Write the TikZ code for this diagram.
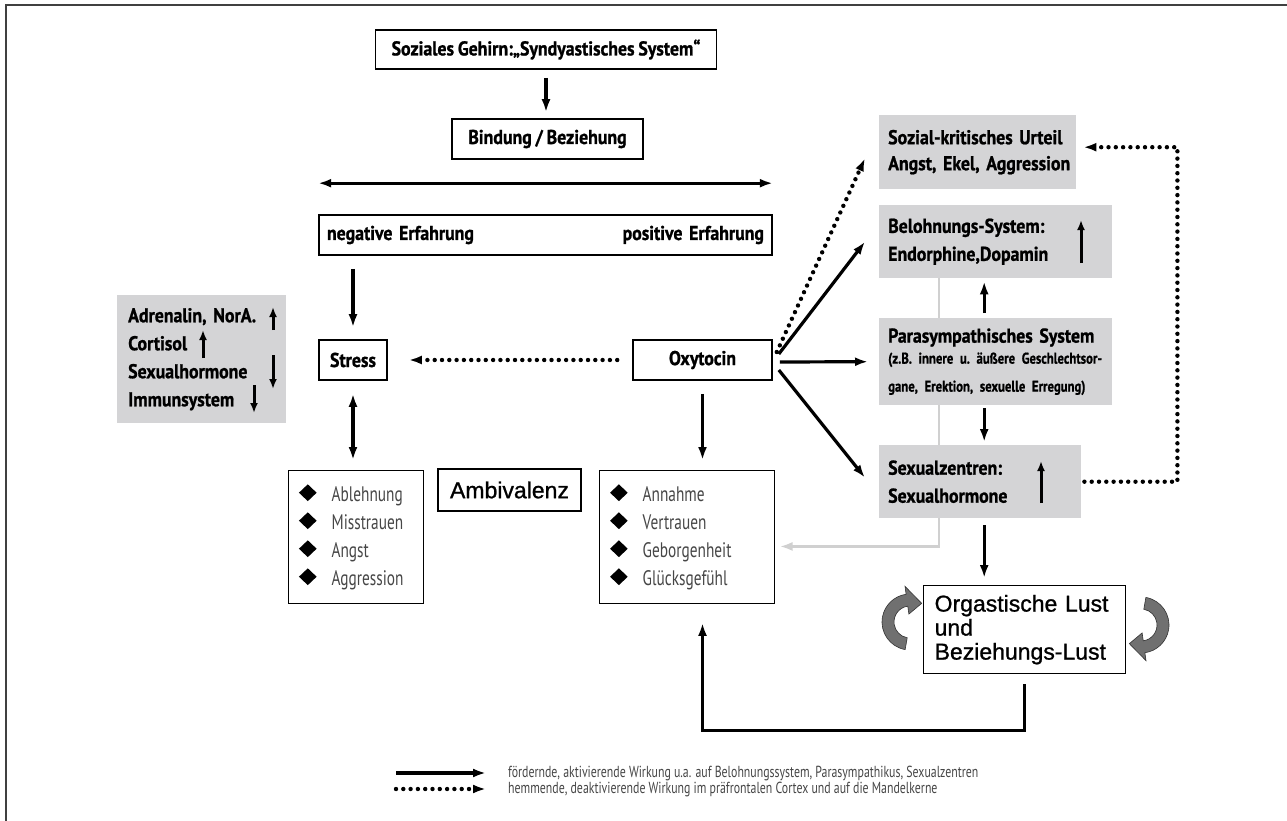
\documentclass[tikz,border=0pt]{standalone}
\usepackage{fontspec}
\setmainfont{PT Sans}
\newfontfamily\condfont[FakeStretch=0.89, WordSpace=0.85, BoldFeatures={FakeBold=1}]{PT Sans}
\newfontfamily\condsmall[FakeStretch=0.82, BoldFeatures={FakeBold=0.8}]{PT Sans}
\newfontfamily\lightfont[FakeStretch=0.73]{PT Sans}
\newfontfamily\legfont[FakeStretch=0.74]{PT Sans}
\newfontfamily\helvfont[FakeBold=1]{Liberation Sans}
\usepackage{tikz}
\usetikzlibrary{arrows.meta,backgrounds,positioning}

\definecolor{boxgray}{RGB}{212,212,214}
\definecolor{linegray}{RGB}{208,208,208}
\definecolor{icongray}{RGB}{112,112,112}
\definecolor{txtgray}{RGB}{70,70,70}

\newcommand{\dia}{\textcolor{black}{\scalebox{1}[0.95]{\rotatebox{45}{\rule{12.5pt}{12.5pt}}}}\hspace{15pt}}

\tikzset{
  whitebox/.style={draw, line width=1.6pt, fill=white, inner sep=0pt,
    font=\condfont\bfseries\fontsize{20}{24}\selectfont},
  listbox/.style={draw, line width=0.9pt, anchor=north west, inner xsep=11pt,
    inner ysep=0pt, align=left, text=txtgray,
    font=\lightfont\fontsize{21}{28}\selectfont},
  graybox/.style={fill=boxgray, anchor=north west, inner xsep=9pt, inner ysep=0pt,
    align=left, font=\condfont\bfseries\fontsize{20}{28}\selectfont},
  fwd/.style={line width=3.2pt, -{Latex[length=13pt,width=9pt]}},
  dbl/.style={line width=3.2pt, {Latex[length=13pt,width=9pt]}-{Latex[length=13pt,width=9pt]}},
  inh/.style={line width=4.4pt, line cap=round, dash pattern=on 0pt off 7.3pt,
    -{Latex[length=13pt,width=9pt]}},
  fbk/.style={line width=2.6pt, draw=linegray, -{Latex[length=13pt,width=9pt]}},
  lvlarr/.style={line width=3pt, -{Latex[length=10pt,width=8pt]}},
  turnicon/.style={fill=icongray, draw=black!80, line width=0.6pt}
}

\begin{document}
\begin{tikzpicture}[x=1pt,y=-1pt]
  \useasboundingbox (0,0) rectangle (1287,821);
  \draw[line width=1.6pt, black!75] (6,821) -- (6,5) -- (1287,5); %frame

  % upper chain
  \node[whitebox, minimum width=341pt, minimum height=39pt] (soz) at (546,49.5) {Soziales Gehirn:„Syndyastisches System“};
  \node[whitebox, minimum width=191pt, minimum height=40pt] (bind) at (547.5,139) {Bindung / Beziehung};
  \node[whitebox, text width=437pt, inner xsep=8pt, minimum height=40pt] (erf) at (545.5,235) {negative Erfahrung\hfill positive Erfahrung};
  \draw[fwd, shorten <=8pt, shorten >=6pt] (soz.south) -- (soz.south |- bind.north);
  \draw[dbl] ([yshift=31pt]erf.north west) -- ([yshift=31pt]erf.north east);

  % stress and oxytocin
  \node[whitebox, minimum width=68pt, minimum height=40pt] (stress) at (353,360) {Stress};
  \node[whitebox, minimum width=139pt, minimum height=40pt] (oxy) at (702.5,360) {Oxytocin};
  \draw[fwd, shorten <=13pt, shorten >=12pt] (erf.south -| stress) -- (stress.north);
  \draw[inh, shorten <=15pt, shorten >=21pt] (oxy.west) -- (stress.east);

  \node[graybox, minimum width=169pt, minimum height=128pt, text width=147pt, inner xsep=11pt] (horm) at (117,295) {Adrenalin, NorA.\\Cortisol\\Sexualhormone\\Immunsystem};
  \draw[lvlarr] (273,330) -- (273,307); %Adrenalin
  \draw[lvlarr] (203,358) -- (203,330); %Cortisol
  \draw[lvlarr] (273,355) -- (273,389); %Sexualhormone
  \draw[lvlarr] (254,385) -- (254,413); %Immunsystem

  % lists
  \node[listbox, minimum width=135pt, minimum height=133pt, text width=113pt] (neg) at (287.5,470) {\dia Ablehnung\\\dia Misstrauen\\\dia Angst\\\dia Aggression};
  \node[whitebox, font=\helvfont\fontsize{23}{24}\selectfont, line width=1.3pt, minimum width=143pt, minimum height=42pt] (amb) at (509.5,490) {Ambivalenz};
  \node[listbox, minimum width=175pt, minimum height=133pt, text width=153pt] (pos) at (598.6,470) {\dia Annahme\\\dia Vertrauen\\\dia Geborgenheit\\\dia Glücksgefühl};
  \draw[dbl, shorten <=13pt, shorten >=10pt] (stress.south) -- (stress.south |- neg.north);
  \draw[fwd, shorten <=13pt, shorten >=10pt] (oxy.south) -- (oxy.south |- pos.north);

  % right column
  \node[graybox, font=\condfont\bfseries\fontsize{20}{26}\selectfont, minimum width=197pt, minimum height=74pt, text width=179pt] (urteil) at (879,115) {\mbox{Sozial-kritisches Urteil}\\\mbox{Angst, Ekel, Aggression}};
  \node[graybox, minimum width=233pt, minimum height=73pt, text width=215pt] (beloh) at (879,205) {Belohnungs-System:\\Endorphine,Dopamin};
  \node[graybox, minimum width=233pt, minimum height=87pt, text width=219pt, inner xsep=7pt] (para) at (879,318) {\hspace{2pt}Parasympathisches System\\[-1pt]\condsmall\bfseries\fontsize{15.5}{22}\selectfont\frenchspacing\hspace{2pt}(z.B. innere u. äußere Geschlechtsor-\\\hspace{2pt}gane, Erektion, sexuelle Erregung)};
  \node[graybox, minimum width=202pt, minimum height=73pt, text width=184pt] (sexz) at (879,445) {Sexualzentren:\\Sexualhormone};
  \node[draw, line width=1.3pt, fill=white, anchor=north west, text width=180pt, inner xsep=11pt, minimum height=88pt, align=left, font=\helvfont\fontsize{23}{24}\selectfont] (lust) at (923,585) {Orgastische Lust\\und\\Beziehungs-Lust};
  \draw[lvlarr] (1081,263) -- (1081,220); %Belohnung up
  \draw[lvlarr] (1041,503) -- (1041,461); %Sexualzentren up

  \draw[inh] ([xshift=4pt,yshift=8pt]oxy.east) -- ([xshift=-14pt,yshift=-6pt]urteil.west);
  \draw[fwd] ([xshift=6pt,yshift=6pt]oxy.east) -- ([xshift=-14pt]beloh.west);
  \draw[fwd] ([xshift=7pt,yshift=-2pt]oxy.east) -- ([xshift=-11pt]para.west);
  \draw[fwd] ([xshift=6pt,yshift=-10pt]oxy.east) -- ([xshift=-14pt,yshift=4pt]sexz.west);

  \coordinate (col) at ([xshift=-11.5pt]para.south);
  \draw[fwd, shorten <=5pt, shorten >=3pt] (col |- para.north) -- (col |- beloh.south);
  \draw[fwd, shorten <=3pt, shorten >=3pt] (col) -- (col |- sexz.north);
  \draw[fwd, shorten <=7pt, shorten >=7pt] (col |- sexz.south) -- (col |- lust.north);

  \begin{scope}[on background layer]
    \draw[fbk] ([xshift=60pt]beloh.south west) |- ([xshift=5pt,yshift=-9.5pt]pos.east);
  \end{scope}

  \coordinate (fb) at ([yshift=-56pt]lust.south);
  \draw[fwd, shorten <=10pt, shorten >=19pt] (lust.south) -- (fb) -| (oxy.south |- pos.south);
  \draw[inh] ([xshift=3pt]sexz.east) -| ([xshift=101pt,yshift=5pt]urteil.east) -- ([xshift=7pt,yshift=5pt]urteil.east);

  % turning arrows round the Lust box
  \begin{scope}[shift={(910,622)}]
    \filldraw[turnicon] (100:28) arc[start angle=100,end angle=262,radius=28] -- (262:36) -- (302:22) -- (262:8) -- (262:16) arc[start angle=262,end angle=100,radius=16] -- cycle;
  \end{scope}
  \begin{scope}[shift={(1141,625)}, rotate=180]
    \filldraw[turnicon] (100:28) arc[start angle=100,end angle=262,radius=28] -- (262:36) -- (302:22) -- (262:8) -- (262:16) arc[start angle=262,end angle=100,radius=16] -- cycle;
  \end{scope}

  % legend
  \node[anchor=west, inner sep=0pt, text=txtgray, font=\legfont\fontsize{16}{18}\selectfont] (leg1) at (508,773) {fördernde, aktivierende Wirkung u.a. auf Belohnungssystem, Parasympathikus, Sexualzentren};
  \node[anchor=west, inner sep=0pt, text=txtgray, font=\legfont\fontsize{16}{18}\selectfont] (leg2) at (508,789) {hemmende, deaktivierende Wirkung im präfrontalen Cortex und auf die Mandelkerne};
  \draw[fwd] ([xshift=-112pt]leg1.west) -- ([xshift=-22pt]leg1.west);
  \draw[inh] ([xshift=-112pt]leg2.west) -- ([xshift=-22pt]leg2.west);
\end{tikzpicture}
\end{document}
